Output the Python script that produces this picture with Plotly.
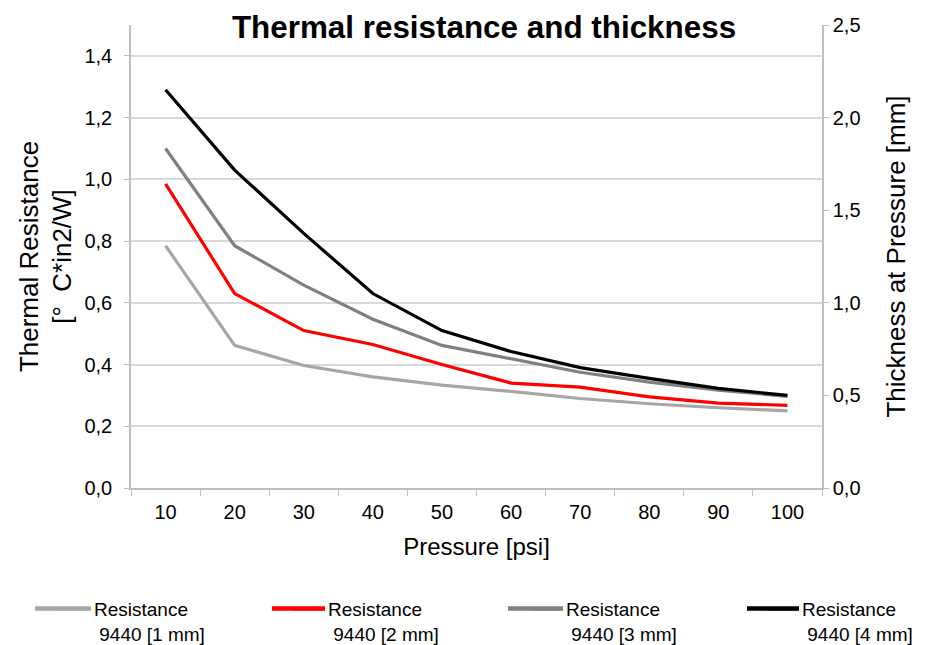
import plotly.graph_objects as go

pressure = ["10", "20", "30", "40", "50", "60", "70", "80", "90", "100"]
res_1mm = [0.785, 0.462, 0.397, 0.360, 0.333, 0.313, 0.290, 0.273, 0.260, 0.250]
res_2mm = [0.985, 0.630, 0.510, 0.465, 0.400, 0.340, 0.327, 0.295, 0.275, 0.268]
res_3mm = [1.100, 0.785, 0.657, 0.547, 0.462, 0.418, 0.375, 0.343, 0.317, 0.297]
res_4mm = [1.290, 1.030, 0.825, 0.630, 0.510, 0.442, 0.390, 0.355, 0.323, 0.300]

series_names = ["Resistance<br>\u00a09440 [1 mm]", "Resistance<br>\u00a09440 [2 mm]",
                "Resistance<br>\u00a09440 [3 mm]", "Resistance<br>\u00a09440 [4 mm]"]
series_values = [res_1mm, res_2mm, res_3mm, res_4mm]
series_colors = ["#A6A6A6", "#FF0000", "#808080", "#000000"]

left_ticks = [0.0, 0.2, 0.4, 0.6, 0.8, 1.0, 1.2, 1.4]
right_ticks = [0.0, 0.5, 1.0, 1.5, 2.0, 2.5]

FONT = "Liberation Sans, Arial, sans-serif"
AXIS_GREY = "#BFBFBF"

# page body adds an 8px margin, so the figure is 8px smaller than the window
W, H = 926, 637
ML, MR, MT, MB = 123, 112, 17, 157
PW, PH = W - ML - MR, H - MT - MB

legend_keys = ["legend", "legend2", "legend3", "legend4"]
legend_px = [46, 280, 518, 754]          # left edge of each legend entry (figure px)
swatch_start_px = [27, 264, 500, 739]    # longer legend swatches start (figure px)
swatch_y_px = 600.5

fig = go.Figure()
for name, vals, col, lk in zip(series_names, series_values, series_colors, legend_keys):
    fig.add_trace(go.Scatter(x=pressure, y=vals, name=name, mode="lines",
                             line=dict(color=col, width=3.2), legend=lk))
# dummy trace so the secondary axis is drawn
fig.add_trace(go.Scatter(x=pressure, y=[None] * len(pressure), yaxis="y2",
                         showlegend=False, hoverinfo="skip", mode="lines"))

legend_y = (PH - (582 - MT)) / PH
legends = {}
for lk, px in zip(legend_keys, legend_px):
    legends[lk] = dict(x=(px - ML) / PW, xanchor="left", y=legend_y, yanchor="top",
                       valign="top", font=dict(size=19), bgcolor="rgba(0,0,0,0)")

sy = (PH - (swatch_y_px - MT)) / PH
for x0, px, col in zip(swatch_start_px, legend_px, series_colors):
    fig.add_shape(type="line", xref="paper", yref="paper",
                  x0=(x0 - ML) / PW, x1=(px + 37 - ML) / PW, y0=sy, y1=sy,
                  line=dict(color=col, width=4.4))

fig.update_layout(
    width=W, height=H,
    margin=dict(l=ML, r=MR, t=MT, b=MB, autoexpand=False),
    paper_bgcolor="white", plot_bgcolor="white",
    separators=", ",
    font=dict(family=FONT, size=20, color="#000000"),
    title=dict(text="<b>Thermal resistance and thickness</b>", x=476 / W, xanchor="center",
               y=1 - 19 / H, yanchor="middle", yref="container",
               font=dict(family=FONT, size=31.4, color="#000000")),
    xaxis=dict(type="category", range=[-0.5, 9.5], showgrid=False, showline=True,
               linecolor=AXIS_GREY, linewidth=1.5,
               ticks="outside", tickson="boundaries", ticklen=6, tickcolor=AXIS_GREY,
               tickfont=dict(size=20), ticklabelstandoff=5,
               title=dict(text="Pressure [psi]", font=dict(size=24), standoff=16)),
    yaxis=dict(range=[0, 1.5], tickvals=left_ticks, tickformat=".1f", showgrid=True,
               gridcolor="#D9D9D9", gridwidth=1.5, showline=True, linecolor=AXIS_GREY, linewidth=1.5,
               ticks="outside", ticklen=5, tickcolor=AXIS_GREY, zeroline=False,
               tickfont=dict(size=20), ticklabelstandoff=8,
               title=dict(text="Thermal Resistance<br>[°\u00a0 C*in2/W]", font=dict(size=26), standoff=5)),
    yaxis2=dict(range=[0, 2.5], tickvals=right_ticks, tickformat=".1f", overlaying="y", side="right",
                showgrid=False, showline=True, linecolor=AXIS_GREY, linewidth=1.5,
                ticks="outside", ticklen=5, tickcolor=AXIS_GREY, zeroline=False,
                tickfont=dict(size=20),
                title=dict(text="Thickness at Pressure [mm]", font=dict(size=26), standoff=27)),
    showlegend=True,
    **legends,
)

fig.write_html("out.html")
